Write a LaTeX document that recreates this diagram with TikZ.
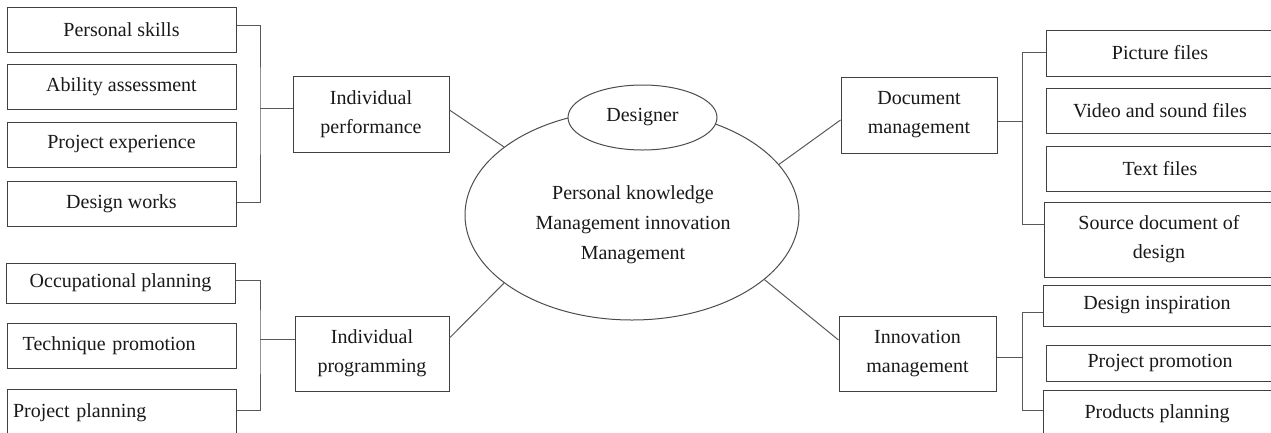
\documentclass[tikz,border=0pt]{standalone}
\usepackage{fontspec}
\setmainfont{Liberation Serif}
\usetikzlibrary{shapes.geometric,calc}
\begin{document}
\begin{tikzpicture}[x=1pt,y=-1pt,
  every node/.style={font=\fontsize{20}{29}\selectfont, text=black!90, inner sep=0pt},
  box/.style={draw=black!75, line width=1pt, rectangle, align=center, fill=white},
  oval/.style={draw=black!70, line width=1pt, ellipse, fill=white},
  link/.style={draw=black!65, line width=1pt}]
\clip (0,0) rectangle (1271,432);

% left, upper group
\node[box, minimum width=229, minimum height=45] (ps) at (121.5,29.5) {Personal skills};
\node[box, minimum width=229, minimum height=45] (aa) at (121.5,86.5) {Ability assessment};
\node[box, minimum width=229, minimum height=45] (pe) at (121.5,144.5) {Project experience};
\node[box, minimum width=229, minimum height=45] (dw) at (121.5,203.5) {Design works};
\node[box, minimum width=156, minimum height=76] (ip) at (371,114) {Individual\\performance};

% left, lower group
\node[box, minimum width=229, minimum height=40] (op) at (120.5,283) {Occupational planning};
\node[box, minimum width=229, minimum height=45, inner xsep=15.7, text width=197.6, align=left] (tp) at (121.5,345.5) {Technique promotion};
\node[box, minimum width=229, minimum height=47, inner xsep=6, text width=217, align=left] (pp) at (121.5,412.5) {Project planning};
\node[box, minimum width=154, minimum height=75] (ig) at (372,353.5) {Individual\\programming};

% right, upper group
\node[box, minimum width=156, minimum height=76] (dm) at (919,115) {Document\\management};
\node[box, minimum width=228, minimum height=46] (pf) at (1160,53) {Picture files};
\node[box, minimum width=228, minimum height=45] (vs) at (1160,110.5) {Video and sound files};
\node[box, minimum width=228, minimum height=45] (tf) at (1160,168.5) {Text files};
\node[box, minimum width=230, minimum height=75] (sd) at (1159,239.5) {Source document of\\design};

% right, lower group
\node[box, minimum width=157, minimum height=75] (im) at (917.5,353.5) {Innovation\\management};
\node[box, minimum width=228, minimum height=41] (di) at (1157,305.5) {Design inspiration};
\node[box, minimum width=228, minimum height=36] (pr) at (1160,363) {Project promotion};
\node[box, minimum width=228, minimum height=47] (pl) at (1157,413.5) {Products planning};

% centre
\node[oval, minimum width=334, minimum height=210] (core) at (632,215) {};
\node[align=center, font=\fontsize{20}{30}\selectfont] (coretext) at (633,224.5) {Personal knowledge\\Management innovation\\Management};
\node[oval, minimum width=149, minimum height=65] (des) at (642.5,117.5) {Designer};

% bracket joints
\coordinate (jl1) at (260,108);
\coordinate (jl2) at (260,339);
\coordinate (jr1) at (1022,121);
\coordinate (jr2) at (1022,357);

% brackets
\draw[link] ($(ps.east)+(0,-4.5)$) -| (jl1) |- ($(dw.east)+(0,-1.5)$);
\draw[link] (jl1) -- ($(ip.west)+(0,-6)$);
\draw[link] ($(op.east)+(0,-3)$) -| (jl2) |- ($(pp.east)+(0,-2.5)$);
\draw[link] (jl2) -- ($(ig.west)+(0,-14.5)$);
\draw[link] ($(pf.west)+(0,-1)$) -| (jr1) |- ($(sd.west)+(0,-15.5)$);
\draw[link] (jr1) -- ($(dm.east)+(0,6)$);
\draw[link] ($(di.west)+(0,6.5)$) -| (jr2) |- ($(pl.west)+(0,-3.5)$);
\draw[link] (jr2) -- ($(im.east)+(0,3.5)$);

% spokes to the centre
\draw[link] ($(ip.east)+(0,-4)$) -- (core.152);
\draw[link] ($(ig.east)+(0,-15.5)$) -- (core.208.5);
\draw[link] (core.19.7) -- ($(dm.west)+(0,5)$);
\draw[link] (core.334.6) -- ($(im.west)+(0,-13.5)$);
\end{tikzpicture}
\end{document}
